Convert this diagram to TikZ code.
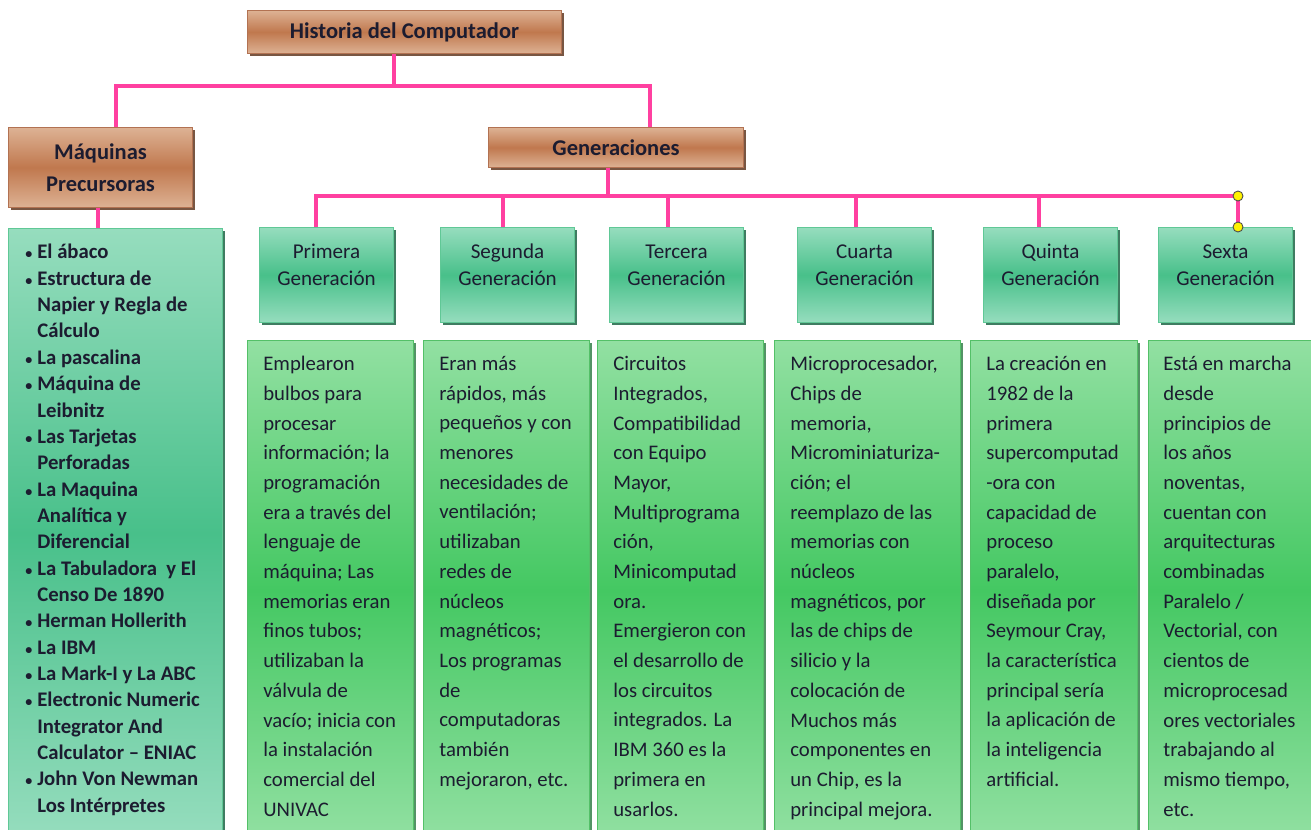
\documentclass[tikz,border=0pt]{standalone}
\usepackage{fontspec}
\setmainfont{Carlito}
\usetikzlibrary{shadows}

\definecolor{linkpink}{RGB}{255,64,160}
\definecolor{brownlight}{RGB}{221,178,148}
\definecolor{browndark}{RGB}{192,120,78}
\definecolor{brownedge}{RGB}{178,114,82}
\definecolor{brownshadow}{RGB}{105,68,46}
\definecolor{teallight}{RGB}{150,221,190}
\definecolor{tealdark}{RGB}{72,192,138}
\definecolor{tealedge}{RGB}{96,200,150}
\definecolor{tealshadow}{RGB}{42,110,80}
\definecolor{greenlight}{RGB}{146,224,162}
\definecolor{greendark}{RGB}{68,200,98}
\definecolor{greenedge}{RGB}{84,192,104}
\definecolor{greenshadow}{RGB}{40,120,62}
\definecolor{inkcol}{RGB}{28,28,48}

\newcommand{\lsbul}{\makebox[0.24cm][l]{\footnotesize•}}
\newcommand{\lsind}{\hspace*{0.24cm}}

\tikzset{
  link/.style={draw=linkpink, line width=2.1pt},
  brownbox/.style={draw=brownedge, line width=0.6pt, inner sep=0pt,
    top color=brownlight, bottom color=brownlight, middle color=browndark,
    drop shadow={shadow xshift=1.6pt, shadow yshift=-1.6pt, fill=brownshadow, opacity=0.9},
    font=\fontsize{12.8}{18}\selectfont\bfseries, text=inkcol, align=center},
  headbox/.style={draw=tealedge, line width=0.6pt, anchor=north west,
    minimum width=2.68cm, minimum height=1.9cm, inner sep=0pt,
    top color=teallight, bottom color=teallight, middle color=tealdark,
    drop shadow={shadow xshift=1.6pt, shadow yshift=-1.6pt, fill=tealshadow, opacity=0.9}},
  headtext/.style={font=\fontsize{12}{15.4}\selectfont, text=inkcol, align=center, inner sep=0pt},
  descbox/.style={draw=greenedge, line width=0.6pt, anchor=north west,
    minimum height=10cm, inner sep=0pt,
    top color=greenlight, bottom color=greenlight, middle color=greendark,
    drop shadow={shadow xshift=1.2pt, shadow yshift=-1.2pt, fill=greenshadow, opacity=0.8}},
  desctext/.style={font=\fontsize{11.8}{16.9}\selectfont, text=inkcol, align=left,
    anchor=north west, inner sep=0pt, execute at begin node=\strut},
  listtext/.style={font=\fontsize{11.8}{15}\selectfont\bfseries, text=inkcol, align=left,
    anchor=north west, inner sep=0pt, execute at begin node=\strut},
  handle/.style={circle, fill=yellow, draw=black!70, line width=0.5pt,
    minimum size=0.2cm, inner sep=0pt}
}

\begin{document}
\begin{tikzpicture}[x=0.02cm, y=-0.02cm]
  \useasboundingbox (0,0) rectangle (1311,830);

  % top level
  \node[brownbox, anchor=north west, minimum width=6.28cm, minimum height=0.86cm] (title) at (247,10) {Historia del Computador};
  \node[brownbox, anchor=north west, minimum width=3.68cm, minimum height=1.6cm] (maq) at (8,127) {Máquinas\\Precursoras};
  \node[brownbox, anchor=north west, minimum width=5.1cm, minimum height=0.8cm] (gen) at (488,127) {Generaciones};

  % list of machines
  \node[headbox, minimum width=4.28cm, minimum height=12.2cm] (lst) at (8,228) {};
  \node[listtext] (lsttxt) at (25,244) {%
    \lsbul El ábaco\\
    \lsbul Estructura de\\
    \lsind Napier y Regla de\\
    \lsind Cálculo\\
    \lsbul La pascalina\\
    \lsbul Máquina de\\
    \lsind Leibnitz\\
    \lsbul Las Tarjetas\\
    \lsind Perforadas\\
    \lsbul La Maquina\\
    \lsind Analítica y\\
    \lsind Diferencial\\
    \lsbul La Tabuladora \ y El\\
    \lsind Censo De 1890\\
    \lsbul Herman Hollerith\\
    \lsbul La IBM\\
    \lsbul La Mark-I y La ABC\\
    \lsbul Electronic Numeric\\
    \lsind Integrator And\\
    \lsind Calculator – ENIAC\\
    \lsbul John Von Newman\\
    \lsind Los Intérpretes};

  % generation heads
  \node[headbox] (h1) at (259,227) {};
  \node[headbox] (h2) at (440,227) {};
  \node[headbox] (h3) at (609,227) {};
  \node[headbox] (h4) at (797,227) {};
  \node[headbox] (h5) at (983,227) {};
  \node[headbox] (h6) at (1158,227) {};

  \node[headtext] (h1t) at ([yshift=0.2cm]h1.center) {Primera\\Generación};
  \node[headtext] (h2t) at ([yshift=0.2cm]h2.center) {Segunda\\Generación};
  \node[headtext] (h3t) at ([yshift=0.2cm]h3.center) {Tercera\\Generación};
  \node[headtext] (h4t) at ([yshift=0.2cm]h4.center) {Cuarta\\Generación};
  \node[headtext] (h5t) at ([yshift=0.2cm]h5.center) {Quinta\\Generación};
  \node[headtext] (h6t) at ([yshift=0.2cm]h6.center) {Sexta\\Generación};

  % descriptions
  \node[descbox, minimum width=3.32cm] (d1) at (247,340) {};
  \node[descbox, minimum width=3.32cm] (d2) at (423,340) {};
  \node[descbox, minimum width=3.32cm] (d3) at (597,340) {};
  \node[descbox, minimum width=3.72cm] (d4) at (774,340) {};
  \node[descbox, minimum width=3.34cm] (d5) at (970,340) {};
  \node[descbox, minimum width=3.36cm] (d6) at (1148,340) {};

  \node[desctext] (d1t) at (263,356) {Emplearon\\bulbos para\\procesar\\información; la\\programación\\era a través del\\lenguaje de\\máquina; Las\\memorias eran\\finos tubos;\\utilizaban la\\válvula de\\vacío; inicia con\\la instalación\\comercial del\\UNIVAC};
  \node[desctext] (d2t) at (439,356) {Eran más\\rápidos, más\\pequeños y con\\menores\\necesidades de\\ventilación;\\utilizaban\\redes de\\núcleos\\magnéticos;\\Los programas\\de\\computadoras\\también\\mejoraron, etc.};
  \node[desctext] (d3t) at (613,356) {Circuitos\\Integrados,\\Compatibilidad\\con Equipo\\Mayor,\\Multiprograma\\ción,\\Minicomputad\\ora.\\Emergieron con\\el desarrollo de\\los circuitos\\integrados. La\\IBM 360 es la\\primera en\\usarlos.};
  \node[desctext] (d4t) at (790,356) {Microprocesador,\\Chips de\\memoria,\\Microminiaturiza-\\ción; el\\reemplazo de las\\memorias con\\núcleos\\magnéticos, por\\las de chips de\\silicio y la\\colocación de\\Muchos más\\componentes en\\un Chip, es la\\principal mejora.};
  \node[desctext] (d5t) at (986,356) {La creación en\\1982 de la\\primera\\supercomputad\\-ora con\\capacidad de\\proceso\\paralelo,\\diseñada por\\Seymour Cray,\\la característica\\principal sería\\la aplicación de\\la inteligencia\\artificial.};
  \node[desctext] (d6t) at (1163,356) {Está en marcha\\desde\\principios de\\los años\\noventas,\\cuentan con\\arquitecturas\\combinadas\\Paralelo /\\Vectorial, con\\cientos de\\microprocesad\\ores vectoriales\\trabajando al\\mismo tiempo,\\etc.};

  % connectors
  \coordinate (jt) at (394,86);
  \coordinate (jm) at (116,86);
  \coordinate (jg) at (650,86);
  \coordinate (kg) at (608,196);
  \draw[link] (title.south -| jt) -- (jt);
  \draw[link] (maq.north -| jm) -- (jm) -- (jg) -- (gen.north -| jg);
  \draw[link] (maq.south -| 98,0) -- (lst.north -| 98,0);
  \draw[link] (gen.south -| kg) -- (kg);
  \draw[link] (h1.north -| 316,0) -- (316,196) -- (1238,196) -- (h6.north -| 1238,0);
  \draw[link] (h2.north -| 503,0) -- (503,196);
  \draw[link] (h3.north -| 668,0) -- (668,196);
  \draw[link] (h4.north -| 856,0) -- (856,196);
  \draw[link] (h5.north -| 1039,0) -- (1039,196);

  \node[handle] (hA) at (1238,196) {};
  \node[handle] (hB) at (h6.north -| 1238,0) {};
\end{tikzpicture}
\end{document}
